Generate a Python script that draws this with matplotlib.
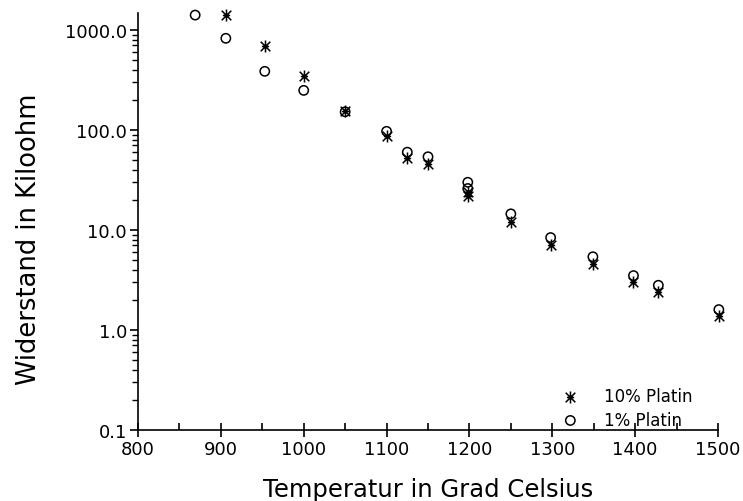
import numpy as np
import matplotlib.pyplot as plt
from matplotlib.path import Path
from matplotlib.ticker import FixedLocator, FormatStrFormatter, LogLocator, NullFormatter

# -----------------------------
# Data
# -----------------------------
temp_10 = [906, 953, 1000, 1050, 1100, 1125, 1150, 1198, 1198, 1250, 1298, 1349, 1398, 1428, 1501]
ohm_10 = [1410, 690, 350, 155, 88, 52, 46, 24, 22, 12.1, 7.1, 4.6, 3.0, 2.4, 1.39]

temp_1 = [869, 906, 953, 1000, 1050, 1100, 1125, 1150, 1198, 1198, 1250, 1298, 1349, 1398, 1428, 1501]
ohm_1 = [1410, 826, 386, 249, 152, 97, 60, 54, 30, 26, 14.5, 8.4, 5.4, 3.5, 2.8, 1.6]

x_ticks = [800, 900, 1000, 1100, 1200, 1300, 1400, 1500]
y_ticks = [0.1, 1.0, 10.0, 100.0, 1000.0]

# asterisk marker: vertical stroke + two diagonals (+ short horizontal)
star = Path([(0, -1), (0, 1), (-0.8, -0.8), (0.8, 0.8), (-0.8, 0.8), (0.8, -0.8),
             (-0.6, 0), (0.6, 0)],
            [Path.MOVETO, Path.LINETO] * 4)

# -----------------------------
# Plot
# -----------------------------
plt.rcParams['font.family'] = ['DejaVu Sans']

fig = plt.figure(figsize=(7.43, 5.02), dpi=100)
ax = fig.add_axes([138 / 743, 1 - 431 / 502, 580 / 743, 417 / 502])

ax.scatter(temp_10, ohm_10, marker=star, s=75, c='black', linewidths=1.1,
           label='10% Platin', clip_on=False, zorder=3)
ax.scatter(temp_1, ohm_1, marker='o', s=45, facecolors='none', edgecolors='black',
           linewidths=1.1, label='1% Platin', clip_on=False, zorder=3)

ax.set_yscale('log')
ax.set_xlim(800, 1500)
ax.set_ylim(0.1, 10 ** 3.17)

ax.xaxis.set_major_locator(FixedLocator(x_ticks))
ax.xaxis.set_minor_locator(FixedLocator(np.arange(850, 1500, 100)))
ax.yaxis.set_major_locator(FixedLocator(y_ticks))
ax.yaxis.set_major_formatter(FormatStrFormatter('%.1f'))
ax.yaxis.set_minor_locator(LogLocator(base=10, subs=np.arange(2, 10)))
ax.yaxis.set_minor_formatter(NullFormatter())

ax.spines['top'].set_visible(False)
ax.spines['right'].set_visible(False)
for s in ['left', 'bottom']:
    ax.spines[s].set_linewidth(1.2)

ax.tick_params(axis='x', which='major', direction='inout', length=10, width=1.2,
               labelsize=13, pad=2)
ax.tick_params(axis='x', which='minor', direction='in', length=5, width=1.2)
ax.tick_params(axis='y', which='major', direction='out', length=6, width=1.2,
               labelsize=13, pad=2)
ax.tick_params(axis='y', which='minor', direction='out', length=4, width=1.0)

ax.set_xlabel('Temperatur in Grad Celsius', fontsize=17.5, labelpad=14)
ax.set_ylabel('Widerstand in Kiloohm', fontsize=18.5)
ax.yaxis.set_label_coords(-0.165, 0.46)

ax.legend(loc='upper left', bbox_to_anchor=(562 / 743, 1 - 388 / 502),
          bbox_transform=fig.transFigure, frameon=False, fontsize=12,
          handlelength=1.0, handletextpad=1.5, borderpad=0, borderaxespad=0,
          labelspacing=0.35)

fig.savefig('out.png', dpi=100)
